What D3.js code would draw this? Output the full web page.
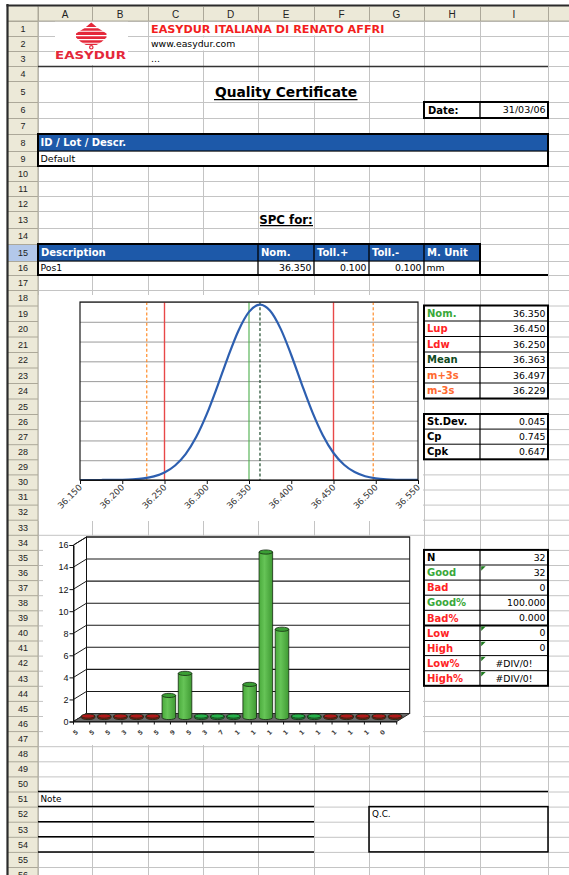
<!DOCTYPE html>
<html><head><meta charset="utf-8">
<script src="https://cdn.jsdelivr.net/npm/d3@7"></script>
<style>html,body{margin:0;padding:0;background:#fff;}svg{display:block;}</style>
</head><body><svg id="c" width="569" height="875"></svg>
<script>
// ---------------- DATA ----------------
const colLetters = ["A","B","C","D","E","F","G","H","I"];
const companyName = "EASYDUR ITALIANA DI RENATO AFFRI";
const website = "www.easydur.com";
const certTitle = "Quality Certificate";
const certDate = "31/03/06";
const lotHeader = "ID / Lot / Descr.";
const lotValue = "Default";
const spcTitle = "SPC for:";
const specHeaders = ["Description","Nom.","Toll.+","Toll.-","M. Unit"];
const specRow = ["Pos1","36.350","0.100","0.100","mm"];

// normal curve (x value, density)
const curveX = [36.150,36.1625,36.175,36.1875,36.200,36.2125,36.225,36.2375,36.250,36.2625,36.275,36.2875,36.300,36.3125,36.325,36.3375,36.350,36.363,36.375,36.3875,36.400,36.4125,36.425,36.4375,36.450,36.4625,36.475,36.4875,36.500,36.5125,36.525,36.5375,36.550];
const curveY = [0.000,0.000,0.001,0.004,0.012,0.033,0.081,0.182,0.379,0.732,1.310,2.169,3.327,4.721,6.204,7.550,8.502,8.865,8.555,7.642,6.321,4.840,3.431,2.252,1.365,0.769,0.401,0.193,0.086,0.035,0.013,0.004,0.002];
const curveXTicks = [36.150,36.200,36.250,36.300,36.350,36.400,36.450,36.500,36.550];
const curveGrid = [0,1,2,3,4,5,6,7,8,9];
const refNames = ["m-3s","Ldw","Nom.","Mean","Lup","m+3s"];
const refValues = [36.229,36.250,36.350,36.363,36.450,36.497];

// histogram
const histCounts = [0,0,0,0,0,2,4,0,0,0,3,15,8,0,0,0,0,0,0,0];
const histInTol  = [0,0,0,0,0,1,1,1,1,1,1,1,1,1,1,0,0,0,0,0];
const histLabels = ["5","5","5","3","5","5","9","5","3","7","1","1","1","1","1","1","1","1","1","0"];
const histYTicks = [0,2,4,6,8,10,12,14,16];

// stats tables
const stat1Labels = ["Nom.","Lup","Ldw","Mean","m+3s","m-3s"];
const stat1Values = ["36.350","36.450","36.250","36.363","36.497","36.229"];
const stat2Labels = ["St.Dev.","Cp","Cpk"];
const stat2Values = ["0.045","0.745","0.647"];
const countLabels = ["N","Good","Bad","Good%","Bad%","Low","High","Low%","High%"];
const countValues = ["32","32","0","100.000","0.000","0","0","#DIV/0!","#DIV/0!"];

// ---------------- STYLE / LAYOUT ----------------
const FR = "'DejaVu Sans', Verdana, sans-serif";
const FA = "'Liberation Sans', Arial, sans-serif";
const C = {grid:"#c4c4c4", head:"#ece9d8", headLine:"#aca899", blue:"#1d59a9",
  green:"#3aa83a", red:"#ff2424", dgreen:"#0f4a22", orange:"#ff6a30", black:"#000"};
const stat1Colors = [C.green,C.red,C.red,C.dgreen,C.orange,C.orange];
const countColors = ["#000",C.green,C.red,C.green,C.red,C.red,C.red,C.red,C.red];

const colEdges = [38,92,148,203,258,314,369,424,480,548,620];
const hts = [15,15,15,15,21,16,16,17,15,15,15,15,17,16,17,14,15];
for (let r=18;r<=25;r++) hts.push(15.5);
for (let r=26;r<=58;r++) hts.push(15.1);
const rowTop=[21]; hts.forEach((h,i)=>rowTop.push(rowTop[i]+h));
const RT=r=>rowTop[r-1], RB=r=>rowTop[r], RM=r=>(RT(r)+RB(r))/2;
const CL=c=>colEdges[c], CR=c=>colEdges[c+1];

const svg = d3.select("#c");
svg.append("rect").attr("width",569).attr("height",875).attr("fill","#fff");

function line(g,x1,y1,x2,y2,w,col,dash){
  const l=g.append("line").attr("x1",x1).attr("y1",y1).attr("x2",x2).attr("y2",y2)
   .attr("stroke",col||"#000").attr("stroke-width",w||1);
  if(dash) l.attr("stroke-dasharray",dash);
  return l;
}
function txt(g,s,x,y,o={}){
  return g.append("text").attr("x",x).attr("y",y).text(s)
   .attr("font-family",o.family||FR).attr("font-size",o.size||9.5)
   .attr("font-weight",o.weight||"normal").attr("fill",o.fill||"#000")
   .attr("text-anchor",o.anchor||"start")
   .attr("text-decoration",o.deco||null);
}
function box(g,x1,y1,x2,y2,w){
  g.append("rect").attr("x",x1).attr("y",y1).attr("width",x2-x1).attr("height",y2-y1)
   .attr("fill","none").attr("stroke","#000").attr("stroke-width",w||2);
}
function mask(g,x1,y1,x2,y2,fill){
  g.append("rect").attr("x",x1).attr("y",y1).attr("width",x2-x1).attr("height",y2-y1).attr("fill",fill||"#fff");
}

// ---------------- GRID ----------------
const gGrid = svg.append("g");
colEdges.forEach(x=>line(gGrid,x+0.5,21,x+0.5,875,1,C.grid));
rowTop.forEach(y=>line(gGrid,38,y+0.5,569,y+0.5,1,C.grid));

// masks where gridlines are hidden
const gM = svg.append("g");
mask(gM,148.5+0.5,RT(1)+1.5,CR(6),RB(1)-0.5);
mask(gM,148.5+0.5,RT(2)+1.5,CR(3),RB(2)-0.5);
mask(gM,CL(3)+1.5,RT(5)+1.5,CR(5),RB(5)-0.5);
mask(gM,55,21.5,128,65);
mask(gM,38.5,295,423,521);   // chart 1 area
mask(gM,43,536,423,745);     // chart 2 area

// ---------------- HEADERS ----------------
const gH = svg.append("g");
mask(gH,8,6,569,21,C.head);
mask(gH,8,21,38,875,C.head);
mask(gH,8,RT(15),38,RB(15),"#b3c8ea");
line(gH,8,21,569,21,1,C.headLine);
line(gH,38,6,38,875,1,C.headLine);
colEdges.forEach(x=>line(gH,x+0.5,7,x+0.5,21,1,C.headLine));
rowTop.forEach(y=>line(gH,8,y+0.5,38,y+0.5,1,C.headLine));
colLetters.forEach((l,i)=>txt(gH,l,(CL(i)+CR(i))/2,17.5,{family:FA,size:10,anchor:"middle",fill:"#222"}));
for(let r=1;r<=56;r++) txt(gH,String(r),23,RM(r)+3.3,{family:FA,size:9,anchor:"middle",fill:"#222"});
line(gH,7.5,4,7.5,875,2.2,"#2b2b2b");
line(gH,6.5,5.5,569,5.5,2,"#2b2b2b");

// ---------------- TOP CONTENT ----------------
const gT = svg.append("g");
// logo
const lg = gT.append("g");
lg.append("path").attr("d","M91.3,22.6 L97.5,27.8 L106.5,33.6 L106.5,37.6 L101.5,42 L96.5,45 L86,45 L81,42 L76,37.6 L76,33.6 L85,27.8 Z").attr("fill","#e4283a");
[27.6,31.3,35.6,39.6,43.2].forEach(y=>line(lg,74,y,109,y,1.1,"#fff"));
lg.append("circle").attr("cx",91.3).attr("cy",47.3).attr("r",1.7).attr("fill","none").attr("stroke","#e4283a").attr("stroke-width",1.2);
txt(lg,"EASYDUR",90.5,58.6,{family:FR,size:9.6,weight:"bold",fill:"#e4283a",anchor:"middle"})
  .attr("textLength",71).attr("lengthAdjust","spacingAndGlyphs");

txt(gT,companyName,151,RM(1)+4,{size:11.2,weight:"bold",fill:"#f21e1e"});
txt(gT,website,151,RM(2)+3.4,{size:9.3});
txt(gT,"...",151,RM(3)+3.4,{size:9.3});
line(gT,38,RB(3)+0.5,548,RB(3)+0.5,1.6,"#333");

txt(gT,certTitle,286,97,{size:13.8,weight:"bold",anchor:"middle"});
line(gT,214,99.6,357.5,99.6,1.3,"#000");

// date
mask(gT,CL(7),RT(6),CR(8),RB(6));
txt(gT,"Date:",CL(7)+4,RM(6)+3.6,{size:10,weight:"bold"});
txt(gT,certDate,CR(8)-2.5,RM(6)+3.4,{size:9.5,anchor:"end"});
line(gT,CL(8),RT(6),CL(8),RB(6),1.3);
box(gT,CL(7),RT(6),CR(8),RB(6),2);

// lot
mask(gT,CL(0),RT(8),CR(8),RB(8),C.blue);
mask(gT,CL(0)+1,RT(9)+1,CR(8)-1,RB(9)-1);
txt(gT,lotHeader,CL(0)+2.5,RM(8)+3.8,{size:10,weight:"bold",fill:"#fff"});
txt(gT,lotValue,CL(0)+2.5,RM(9)+3.4,{size:9.5});
line(gT,CL(0),RB(8),CR(8),RB(8),1.2);
box(gT,CL(0),RT(8),CR(8),RB(9),2);

// SPC for
txt(gT,spcTitle,286,RM(13)+4,{size:11.8,weight:"bold",anchor:"middle"});
line(gT,260,RM(13)+6.2,313,RM(13)+6.2,1.2);

// spec table
mask(gT,CL(0),RT(15),CR(7),RB(15),C.blue);
mask(gT,CL(0)+1,RT(16)+1,CR(7)-1,RB(16)-1);
const specCols=[[0,3],[4,4],[5,5],[6,6],[7,7]];
specHeaders.forEach((h,i)=>txt(gT,h,CL(specCols[i][0])+3,RM(15)+3.8,{size:10,weight:"bold",fill:"#fff"}));
specRow.forEach((v,i)=>{
  const right = (i>=1 && i<=3);
  txt(gT,v,right?CR(specCols[i][1])-2.5:CL(specCols[i][0])+2.5,RM(16)+3.4,{size:9.3,anchor:right?"end":"start"});
});
[4,5,6,7].forEach(c=>line(gT,CL(c),RT(15),CL(c),RB(16),1.3));
line(gT,CL(0),RB(15),CR(7),RB(15),1.2);
box(gT,CL(0),RT(15),CR(7),RB(16),2);
line(gT,CL(0),RB(16),CR(8),RB(16),2);

// ---------------- CHART 1: normal curve ----------------
const g1 = svg.append("g");
const x1s = d3.scaleLinear().domain([36.150,36.550]).range([80,418]);
const y1s = d3.scaleLinear().domain([0,9]).range([480,302]);
g1.append("g").attr("transform","translate(80,0)")
  .call(d3.axisLeft(y1s).tickValues(curveGrid).tickSize(-338).tickFormat(""))
  .call(g=>g.select(".domain").remove())
  .call(g=>g.selectAll(".tick line").attr("stroke","#9a9a9a").attr("stroke-width",1));
const refStyle = {"m-3s":["#ff8c2a","3,2.2",1.2],"Ldw":["#e84848",null,1.4],"Nom.":["#4caf4c",null,1.1],
  "Mean":["#1c4a2a","3,2.2",1.2],"Lup":["#e84848",null,1.4],"m+3s":["#ff8c2a","3,2.2",1.2]};
refValues.forEach((v,i)=>{
  const s=refStyle[refNames[i]];
  line(g1,x1s(v),302,x1s(v),480,s[2],s[0],s[1]);
});
g1.append("path").datum(curveX.map((x,i)=>[x,curveY[i]]))
  .attr("d",d3.line().x(d=>x1s(d[0])).y(d=>y1s(d[1])).curve(d3.curveMonotoneX))
  .attr("fill","none").attr("stroke","#2d5fb0").attr("stroke-width",2.2);
g1.append("rect").attr("x",80).attr("y",302).attr("width",338).attr("height",178)
  .attr("fill","none").attr("stroke","#1a1a1a").attr("stroke-width",1.2);
const ax1 = g1.append("g").attr("transform","translate(0,480)")
  .call(d3.axisBottom(x1s).tickValues(curveXTicks).tickSize(4).tickFormat(d3.format(".3f")));
ax1.select(".domain").attr("stroke","#111");
ax1.selectAll(".tick line").attr("stroke","#111");
ax1.selectAll(".tick text").attr("font-family",FR).attr("font-size",8.6).attr("fill","#333")
  .attr("text-anchor","end").attr("dy",null).attr("y",0)
  .attr("transform","translate(2,8) rotate(-45)");

// ---------------- CHART 2: 3D histogram ----------------
const g2 = svg.append("g");
const DX=13, DY=-8;
const yF = d3.scaleLinear().domain([0,16]).range([721.5,545]);
const xF = d3.scaleBand().domain(d3.range(histCounts.length)).range([73.5,396.7]);
// back wall
g2.append("rect").attr("x",73.5+DX).attr("y",yF(16)+DY).attr("width",396.7-73.5).attr("height",yF(0)-yF(16))
  .attr("fill","#fff").attr("stroke","#111").attr("stroke-width",1);
histYTicks.forEach(v=>line(g2,73.5+DX,yF(v)+DY,396.7+DX,yF(v)+DY,1.1,"#1a1a1a"));
// left wall
g2.append("path").attr("d",`M73.5,${yF(16)} L${73.5+DX},${yF(16)+DY} L${73.5+DX},${yF(0)+DY} L73.5,${yF(0)} Z`)
  .attr("fill","#fff").attr("stroke","#111").attr("stroke-width",1);
histYTicks.forEach(v=>line(g2,73.5,yF(v),73.5+DX,yF(v)+DY,1,"#1a1a1a"));
// floor
g2.append("path").attr("d",`M73.5,${yF(0)} L396.7,${yF(0)} L${396.7+DX},${yF(0)+DY} L${73.5+DX},${yF(0)+DY} Z`)
  .attr("fill","#6a6a6a").attr("stroke","#2a2a2a").attr("stroke-width",1);
// gradient
const defs = svg.append("defs");
const gr = defs.append("linearGradient").attr("id","barG").attr("x1",0).attr("x2",1).attr("y1",0).attr("y2",0);
gr.append("stop").attr("offset","0%").attr("stop-color","#4aab3c");
gr.append("stop").attr("offset","40%").attr("stop-color","#66c457");
gr.append("stop").attr("offset","100%").attr("stop-color","#3f9a33");
// bars
const bw = xF.bandwidth()*0.84, rx = bw/2, ry = 2.1;
histCounts.forEach((v,i)=>{
  const cx = xF(i)+xF.bandwidth()/2+DX/2;
  const base = yF(0)+DY/2;
  const top = v>0 ? yF(v)+DY/2 : base-1.4;
  const fillBody = v>0 ? "url(#barG)" : (histInTol[i] ? "#1f9a3e" : "#9c1414");
  const fillTop = v>0 ? "#3a9e34" : (histInTol[i] ? "#26b04a" : "#b01a1a");
  g2.append("path")
    .attr("d",`M${cx-rx},${top} L${cx-rx},${base} A${rx},${ry} 0 0 0 ${cx+rx},${base} L${cx+rx},${top} Z`)
    .attr("fill",fillBody).attr("stroke","#142a10").attr("stroke-width",0.8);
  g2.append("ellipse").attr("cx",cx).attr("cy",top).attr("rx",rx).attr("ry",ry)
    .attr("fill",fillTop).attr("stroke","#142a10").attr("stroke-width",0.8);
});
// axes
const ay2 = g2.append("g").attr("transform","translate(73.5,0)")
  .call(d3.axisLeft(yF).tickValues(histYTicks).tickSize(4).tickFormat(d3.format("d")));
ay2.select(".domain").attr("stroke","#111");
ay2.selectAll(".tick line").attr("stroke","#111");
ay2.selectAll(".tick text").attr("font-family",FA).attr("font-size",9).attr("fill","#111").attr("x",-5);
const ax2 = g2.append("g").attr("transform",`translate(0,${yF(0)})`)
  .call(d3.axisBottom(xF).tickSize(0).tickFormat(i=>histLabels[i]));
ax2.select(".domain").attr("stroke","#111");
ax2.selectAll(".tick text").attr("font-family",FR).attr("font-size",6.2).attr("font-weight","bold").attr("fill","#444")
  .attr("text-anchor","end").attr("dy",null).attr("y",0)
  .attr("transform","translate(-3,11) rotate(-45)");
d3.range(histCounts.length+1).forEach(k=>{
  const x = 73.5 + k*xF.step();
  line(g2,x,yF(0),x,yF(0)+3,1,"#111");
});

// ---------------- RIGHT TABLES ----------------
const gR = svg.append("g");
function statTable(r0,labels,values,colors,thickAfter,center){
  const n=labels.length;
  mask(gR,CL(7),RT(r0),CR(8),RB(r0+n-1));
  labels.forEach((l,i)=>{
    const r=r0+i;
    txt(gR,l,CL(7)+3,RM(r)+3.7,{size:10,weight:"bold",fill:colors[i]});
    const isC = center && values[i].startsWith("#");
    txt(gR,values[i],isC?(CL(8)+CR(8))/2:CR(8)-2.5,RM(r)+3.4,{size:9.3,anchor:isC?"middle":"end"});
    if(i<n-1) line(gR,CL(7),RB(r),CR(8),RB(r),(thickAfter===i)?2:1);
  });
  line(gR,CL(8),RT(r0),CL(8),RB(r0+n-1),1.2);
  box(gR,CL(7),RT(r0),CR(8),RB(r0+n-1),2);
}
statTable(19,stat1Labels,stat1Values,stat1Colors,-1,false);
statTable(26,stat2Labels,stat2Values,["#000","#000","#000"],-1,false);
statTable(35,countLabels,countValues,countColors,4,true);
[36,40,41,42,43].forEach(r=>{
  const x=CL(8)+1.2, y=RT(r)+1.2;
  gR.append("path").attr("d",`M${x},${y} L${x+4.5},${y} L${x},${y+4.5} Z`).attr("fill","#1f7a1f");
});

// ---------------- BOTTOM ----------------
const gB = svg.append("g");
line(gB,CL(0),RT(51),CR(8),RT(51),1.5);
[51,52,53,54].forEach(r=>line(gB,CL(0),RB(r),CR(4),RB(r),1.5));
txt(gB,"Note",CL(0)+2.5,RM(51)+3.3,{size:8.8});
box(gB,CL(6),RT(52),CR(8),RB(54),1.5);
txt(gB,"Q.C.",CL(6)+3,RM(52)+3.3,{size:8.8});
</script></body></html>
